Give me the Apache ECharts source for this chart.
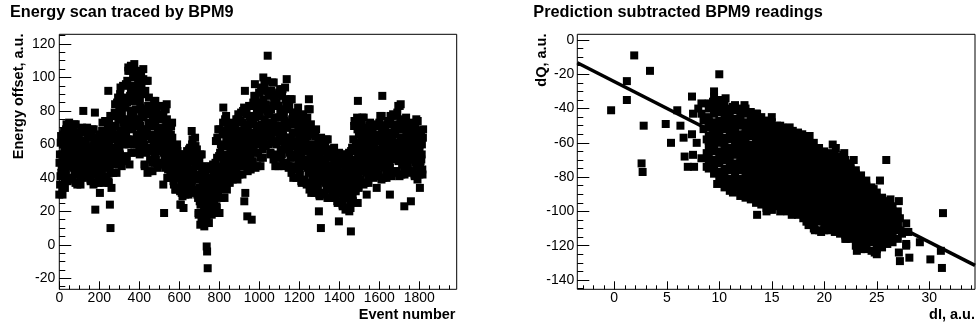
<!DOCTYPE html>
<html><head><meta charset="utf-8">
<script src="https://cdn.jsdelivr.net/npm/echarts@6/dist/echarts.min.js"></script>
<style>html,body{margin:0;padding:0;background:#fff}#c{width:976px;height:326px}</style>
</head><body><div id="c"></div>
<script>
// ---------------- DATA ----------------
// Left panel: energy offset per event.
// energyOffsetA -> events 0,3,6,... ; energyOffsetB -> events 1,4,7,...
const EVENT_STEP = 3;
const energyOffsetA = [
30,54,41,65,47,34,60,50,68,39, 63,43,72,51,38,58,48,68,55,40, 50,67,40,60,46,72,54,37,63,56,
36,58,45,67,51,40,62,54,70,44, 62,45,69,52,41,58,49,66,55,42, 48,65,39,58,45,69,52,36,60,54,
37,55,45,64,50,40,60,52,66,43, 62,44,73,51,37,59,47,68,55,41, 50,71,38,62,46,77,55,34,65,58,
43,71,55,84,63,48,78,66,88,53, 82,54,94,65,47,75,61,88,71,50, 69,96,53,85,63,104,75,48,89,79,
55,86,69,100,77,60,93,81,104,66, 89,61,101,72,54,82,68,95,78,57, 64,90,48,79,58,98,69,43,83,73,
44,71,56,82,63,49,76,66,86,53, 72,51,82,60,46,67,57,77,64,48, 59,76,49,69,55,81,63,46,72,65,
40,61,49,71,55,44,66,57,73,47, 52,36,59,43,33,49,41,56,46,34, 34,50,24,43,31,54,37,22,46,40,
30,48,38,56,42,33,52,45,58,36, 55,36,63,43,31,50,41,59,47,33, 30,49,19,41,26,54,34,16,44,37,
15,35,24,44,29,18,39,31,46,22, 40,22,47,29,18,35,27,44,33,19, 38,62,23,52,33,69,43,19,55,47,
28,59,42,73,50,33,66,54,77,39, 63,42,72,50,37,58,48,68,55,39, 52,70,42,63,49,75,56,39,65,59,
42,67,53,79,60,47,73,63,82,51, 72,49,81,58,44,66,55,77,63,45, 62,83,50,74,58,89,67,46,77,70,
47,77,60,91,68,52,84,72,94,57, 87,64,96,73,59,81,70,92,78,60, 68,91,55,81,63,97,73,51,85,76,
47,76,60,90,67,52,83,71,93,57, 81,54,93,65,47,74,61,87,70,49, 59,81,47,72,55,87,64,43,75,67,
40,67,52,78,59,45,72,62,82,49, 66,42,76,52,37,60,49,72,57,39, 51,75,37,65,46,81,56,33,68,60,
31,53,41,66,46,34,59,50,69,38, 54,34,63,42,29,49,39,59,46,31, 41,58,31,51,37,63,45,28,54,47,
28,47,36,56,41,31,52,44,58,35, 47,29,54,36,25,42,34,51,40,26, 33,50,24,43,30,54,37,21,45,39,
22,45,32,55,38,26,50,41,58,30, 63,38,74,48,32,57,45,69,53,34, 51,71,39,62,47,76,55,36,65,58,
37,60,47,70,53,41,65,56,73,45, 61,46,70,52,40,58,50,66,55,43, 53,72,42,64,49,77,57,39,67,60,
40,62,49,71,55,44,67,58,74,48, 67,46,77,55,41,62,52,72,59,43, 57,77,44,69,52,83,61,41,72,64,
42,64,51,73,57,46,69,60,76,50, 65,47,72,54,43,60,52,69,58,44, 52,70,42,63,49,75,56,39,65,59,
42,60,50,68,54,45,64
];
const energyOffsetB = [
49,36,61,43,54,30,66,46,57,34, 45,69,53,39,61,50,73,57,47,65, 58,48,39,69,53,44,61,72,51,66,
53,42,64,47,58,36,68,50,61,40, 47,67,53,41,60,51,70,57,48,64, 56,46,38,66,52,43,59,69,49,63,
52,42,61,47,56,37,65,49,58,40, 46,68,54,38,62,49,74,57,46,66, 60,47,37,73,54,43,64,77,51,69,
65,50,79,58,71,43,85,61,75,48, 57,90,68,49,79,64,95,73,60,84, 82,66,52,98,74,60,86,104,70,93,
80,63,95,71,86,55,102,75,91,60, 64,97,75,56,86,71,102,80,67,91, 76,60,47,92,69,55,81,98,65,88,
65,51,78,58,71,44,83,61,74,49, 54,79,62,47,70,59,83,66,56,75, 67,57,48,78,62,53,70,81,60,75,
57,45,67,51,61,40,71,54,64,44, 38,57,44,33,51,42,60,48,40,54, 41,32,24,51,37,29,44,54,35,48,
44,34,53,39,48,30,57,41,50,33, 38,60,45,32,53,42,64,49,39,57, 39,28,18,50,34,24,42,54,31,47,
31,20,40,25,35,15,45,28,38,18, 24,45,31,19,38,28,48,34,26,41, 49,35,22,64,42,29,53,69,39,60,
53,36,68,44,59,28,75,48,64,33, 44,69,52,38,61,50,73,57,46,65, 61,50,41,71,56,46,64,75,53,68,
62,49,74,55,67,42,80,58,71,47, 51,78,60,45,69,57,83,65,54,74, 72,59,49,85,66,55,76,89,63,81,
71,55,85,63,77,47,92,66,81,52, 66,93,75,60,84,72,98,80,69,89, 79,65,54,92,73,61,83,97,69,88,
70,54,85,62,76,47,91,66,80,52, 57,89,67,48,78,64,94,73,59,84, 70,57,46,83,64,52,73,87,60,79,
61,47,74,54,67,40,79,57,70,45, 45,73,54,38,64,51,78,59,47,68, 62,48,36,76,56,43,66,81,52,72,
50,37,60,43,55,31,65,46,58,35, 36,60,44,30,52,41,64,48,38,56, 49,39,30,60,44,35,52,63,42,57,
43,33,53,38,47,28,57,40,50,31, 31,52,38,26,45,35,55,41,33,48, 41,31,23,51,37,28,44,54,34,48,
40,28,51,34,45,22,56,37,48,26, 41,71,51,33,61,47,76,56,43,66, 60,48,38,72,55,44,64,76,52,69,
55,43,66,49,60,37,71,52,63,41, 48,66,53,42,60,50,71,56,47,63, 62,51,41,73,57,47,65,77,54,70,
57,46,68,51,62,40,72,54,65,44, 49,74,57,42,65,54,78,61,51,70, 66,54,44,79,61,50,70,83,58,75,
59,48,70,53,64,42,74,56,67,46, 49,70,56,44,63,53,73,59,51,66, 60,51,41,70,56,47,63,74,53,67,
56,46,65,51,60,42,69
];
// isolated events read individually: [event number, energy offset]
const energyIsolated = [
[120,80],[178,79],[180,21],[203,31],[245,92],[253,24],[256,10],[345,106],[358,107],[375,108],
[420,105],[420,99],[480,86],[520,36],[524,19],[537,84],[662,68],[705,12],[725,11],[748,13],
[737,-1],[739,-4],[742,-14],[820,82],[895,78],[925,26],[930,31],[928,92],[940,17],[962,15],
[978,96],[1020,100],[1042,113],[1137,99],[1248,87],[1298,20],[1308,10],[1398,14],[1450,20],
[1458,8],[1493,86],[1492,25],[1537,30],[1587,34],[1615,89],[1653,30],[1707,84],[1725,23],
[1758,26],[1803,34]
];

// Right panel: dQ readings grouped by dI column
const dIColumns = [9,9.5,10,10.5,11,11.5,12,12.5,13,13.5,14,14.5,15,15.5,16,16.5,17,17.5,18,18.5,
  19,19.5,20,20.5,21,21.5,22,22.5,23,23.5,24,24.5,25,25.5,26,26.5,27];
const dQColumns = [
[-37,-40,-45,-48,-51,-56,-59,-62,-67,-70,-75],
[-33,-37,-40,-43,-48,-51,-54,-58,-62,-65,-70,-74,-78],
[-35,-38,-42,-47,-50,-53,-57,-60,-65,-68,-72,-77,-80],
[-38,-42,-45,-48,-52,-57,-60,-64,-67,-70,-75,-78,-82,-86],
[-40,-43,-47,-51,-54,-58,-63,-66,-69,-73,-76,-81,-84,-88],
[-38,-41,-46,-50,-53,-56,-60,-64,-67,-72,-75,-79,-83,-86],
[-40,-44,-47,-50,-55,-58,-61,-65,-69,-72,-76,-81,-84,-88],
[-40,-43,-48,-52,-55,-59,-63,-66,-70,-74,-77,-81,-85,-88,-92],
[-42,-46,-50,-53,-56,-61,-64,-67,-71,-75,-79,-83,-86,-89,-93],
[-43,-47,-51,-55,-58,-61,-65,-69,-72,-76,-80,-84,-87,-91,-95],
[-45,-49,-52,-55,-59,-63,-66,-70,-74,-77,-81,-85,-88,-92,-96],
[-47,-50,-53,-57,-61,-65,-68,-72,-76,-79,-83,-87,-90,-94,-98],
[-48,-51,-55,-59,-62,-66,-70,-73,-77,-81,-84,-88,-92,-95,-99],
[-50,-54,-57,-61,-65,-68,-72,-76,-79,-82,-86,-90,-93,-97],
[-51,-54,-58,-62,-65,-69,-73,-76,-80,-84,-87,-91,-95,-99],
[-52,-56,-59,-63,-67,-70,-74,-78,-81,-85,-89,-92,-96,-100],
[-53,-57,-60,-64,-68,-71,-75,-79,-83,-86,-90,-94,-97,-101],
[-54,-58,-61,-65,-69,-73,-76,-80,-84,-88,-91,-95,-98,-102],
[-56,-59,-63,-67,-70,-74,-78,-81,-85,-89,-92,-96,-100,-104],
[-58,-61,-65,-69,-72,-76,-80,-83,-87,-91,-94,-98,-102,-105,-108],
[-60,-63,-67,-71,-74,-78,-82,-85,-89,-93,-96,-100,-103,-107,-110],
[-63,-66,-70,-73,-77,-81,-84,-88,-92,-95,-99,-103,-106,-111],
[-65,-68,-71,-75,-79,-82,-86,-90,-93,-97,-101,-104,-108,-111],
[-66,-69,-73,-77,-80,-84,-88,-91,-95,-99,-102,-106,-109],
[-67,-70,-74,-78,-82,-85,-89,-93,-96,-100,-104,-108,-112],
[-68,-72,-75,-79,-83,-86,-90,-94,-97,-101,-105,-109,-113],
[-70,-73,-77,-81,-84,-88,-92,-95,-99,-103,-106,-110,-114,-116],
[-72,-75,-79,-83,-86,-90,-94,-97,-101,-105,-108,-112,-116],
[-76,-79,-83,-87,-90,-94,-98,-101,-105,-109,-112,-116,-120],
[-79,-82,-86,-90,-93,-97,-101,-104,-108,-112,-115,-119,-122],
[-82,-85,-89,-93,-96,-100,-104,-107,-111,-115,-118,-122],
[-86,-89,-93,-96,-100,-104,-107,-111,-115,-118,-123],
[-89,-92,-96,-100,-103,-107,-111,-114,-118,-122],
[-92,-95,-99,-103,-106,-110,-114,-117,-121],
[-94,-97,-101,-105,-108,-112,-116,-119],
[-97,-100,-104,-108,-111,-115,-118],
[-100,-104,-107,-111,-116]
];
// individually read readings: [dI, dQ]
const readingsIsolated = [
[-0.3,-41],[1.9,-9],[1.2,-24],[1.2,-35],[3.4,-18],[2.8,-50],[2.6,-72],[2.7,-77],[4.9,-49],[5.4,-60],
[6.0,-41],[6.3,-50],[7.4,-33],[6.6,-57],[7.4,-55],[6.7,-68],[7.0,-74],[7.6,-74],[7.5,-67],[8.3,-69],
[7.5,-43],[8.3,-43],[8.3,-37],[8.0,-40],[7.85,-60],[8.8,-58],[8.8,-66],[8.8,-74],[8.5,-47],[8.5,-52],
[10.0,-20],[9.5,-30],[9.8,-84],[10.7,-85],[11.3,-89],[12.1,-89],[11.0,-82],[12.0,-91],[13.6,-102],[15.0,-99],
[9.4,-36],[10.1,-35],[10.6,-34],[11.3,-39],[12.4,-38],[13.6,-43],[15.0,-45],[15.8,-50],[16.7,-51],[17.9,-55],
[18.6,-56],[20.8,-61],[21.1,-63],[21.8,-67],[21.9,-66],[22.8,-70],[23.2,-80],[23.0,-78],[24.7,-87],[25.3,-82],
[25.9,-70],[26.3,-93],[14.5,-100],[15.8,-100],[16.9,-102],[18.3,-106],[19.1,-111],[19.7,-112],[20.5,-111],[21.2,-110],
[22.1,-116],[23.1,-123],[24.0,-121],[24.8,-124],[25.0,-125],[27.1,-124],[27.1,-94],[27.2,-104],[27.0,-108],[27.8,-107],
[27.8,-119],[27.8,-120],[29.1,-118],[27.2,-129],[28.1,-127],[30.1,-128],[31.1,-123],[31.2,-133],[31.3,-101],[27.4,-113],
[26.6,-103],[26.3,-113],[28.0,-112]
];
// straight-line fit drawn across the frame
const fitLineDI = [-3.52, 34.35];
const fitLineDQ = [-13.3, -131.5];

// ---------------- LAYOUT ----------------
const FONT = '"Liberation Sans", Arial, Helvetica, sans-serif';
const L = {x:59.3, y:34.3, w:397.4, h:255, xr:[0,1987], yr:[-26.6,125.8]};
const R = {x:577.3, y:34.3, w:397.7, h:255, xr:[-3.52,34.35], yr:[-145.45,3.32]};
const MARK = 8;

function frameGrid(f) {
  return {left:f.x, top:f.y, width:f.w, height:f.h, show:true, borderColor:'#000', borderWidth:1, backgroundColor:'transparent'};
}
function subGrid(f, x0, x1, y0, y1) {
  const sx = f.w / (f.xr[1] - f.xr[0]), sy = f.h / (f.yr[1] - f.yr[0]);
  return {left: f.x + (x0 - f.xr[0]) * sx, width: (x1 - x0) * sx,
          top: f.y + (f.yr[1] - y1) * sy, height: (y1 - y0) * sy};
}
function hidden(gi, r) { return {gridIndex:gi, type:'value', min:r[0], max:r[1], show:false}; }
function tickAxis(gi, min, max, interval, len, labels, margin) {
  return {gridIndex:gi, type:'value', min:min, max:max, interval:interval,
    axisLine:{show:false, onZero:false}, splitLine:{show:false},
    axisTick:{show:true, inside:true, length:len, lineStyle:{color:'#000', width:1}},
    axisLabel:{show:labels, color:'#000', fontSize:14, fontFamily:FONT, margin:margin,
               formatter: v => String(v)}};
}

const chart = echarts.init(document.getElementById('c'), null, {renderer:'canvas'});
chart.setOption({
  backgroundColor:'#fff',
  animation:false,
  grid:[
    frameGrid(L),
    subGrid(L, 0, 1800, L.yr[0], L.yr[1]),
    subGrid(L, 0, 1950, L.yr[0], L.yr[1]),
    subGrid(L, L.xr[0], L.xr[1], -20, 120),
    subGrid(L, L.xr[0], L.xr[1], -25, 125),
    frameGrid(R),
    subGrid(R, 0, 30, R.yr[0], R.yr[1]),
    subGrid(R, -3, 34, R.yr[0], R.yr[1]),
    subGrid(R, R.xr[0], R.xr[1], -140, 0),
    subGrid(R, R.xr[0], R.xr[1], -145, 0)
  ],
  xAxis:[
    hidden(0, L.xr),
    tickAxis(1, 0, 1800, 200, 8, true, 2),
    tickAxis(2, 0, 1950, 50, 4, false, 2),
    hidden(3, L.xr),
    hidden(4, L.xr),
    hidden(5, R.xr),
    tickAxis(6, 0, 30, 5, 8, true, 2),
    tickAxis(7, -3, 34, 1, 4, false, 2),
    hidden(8, R.xr),
    hidden(9, R.xr)
  ],
  yAxis:[
    hidden(0, L.yr),
    hidden(1, L.yr),
    hidden(2, L.yr),
    tickAxis(3, -20, 120, 20, 12, true, 4),
    tickAxis(4, -25, 125, 5, 6, false, 4),
    hidden(5, R.yr),
    hidden(6, R.yr),
    hidden(7, R.yr),
    tickAxis(8, -140, 0, 20, 12, true, 3),
    tickAxis(9, -145, 0, 5, 6, false, 3)
  ],
  series:[
    {type:'scatter', xAxisIndex:0, yAxisIndex:0, clip:false, silent:true,
     symbol:'rect', symbolSize:MARK, itemStyle:{color:'#000', opacity:1},
     data: energyOffsetA.map((v, i) => [i * EVENT_STEP, v])
             .concat(energyOffsetB.map((v, i) => [i * EVENT_STEP + 1, v]))
             .concat(energyIsolated)},
    {type:'scatter', xAxisIndex:5, yAxisIndex:5, clip:false, silent:true,
     symbol:'rect', symbolSize:MARK, itemStyle:{color:'#000', opacity:1},
     data: dIColumns.flatMap((x, i) => dQColumns[i].map(y => [x, y])).concat(readingsIsolated)},
    {type:'line', xAxisIndex:5, yAxisIndex:5, clip:false, silent:true, showSymbol:false, z:3,
     lineStyle:{color:'#000', width:3.5},
     data: fitLineDI.map((x, i) => [x, fitLineDQ[i]])}
  ],
  graphic:[
    {type:'text', x:10, y:12.8, style:{text:'Energy scan traced by BPM9', font:'bold 16.3px ' + FONT, fill:'#000', align:'left', verticalAlign:'middle'}},
    {type:'text', x:533.3, y:12.8, style:{text:'Prediction subtracted BPM9 readings', font:'bold 16.3px ' + FONT, fill:'#000', align:'left', verticalAlign:'middle'}},
    {type:'text', x:19, y:33.5, rotation:Math.PI/2, style:{text:'Energy offset, a.u.', font:'bold 14.5px ' + FONT, fill:'#000', align:'right', verticalAlign:'middle'}},
    {type:'text', x:542, y:33.5, rotation:Math.PI/2, style:{text:'dQ, a.u.', font:'bold 14.5px ' + FONT, fill:'#000', align:'right', verticalAlign:'middle'}},
    {type:'text', x:455.5, y:315, style:{text:'Event number', font:'bold 14.5px ' + FONT, fill:'#000', align:'right', verticalAlign:'middle'}},
    {type:'text', x:975, y:315, style:{text:'dI, a.u.', font:'bold 14.5px ' + FONT, fill:'#000', align:'right', verticalAlign:'middle'}}
  ]
});
</script></body></html>
